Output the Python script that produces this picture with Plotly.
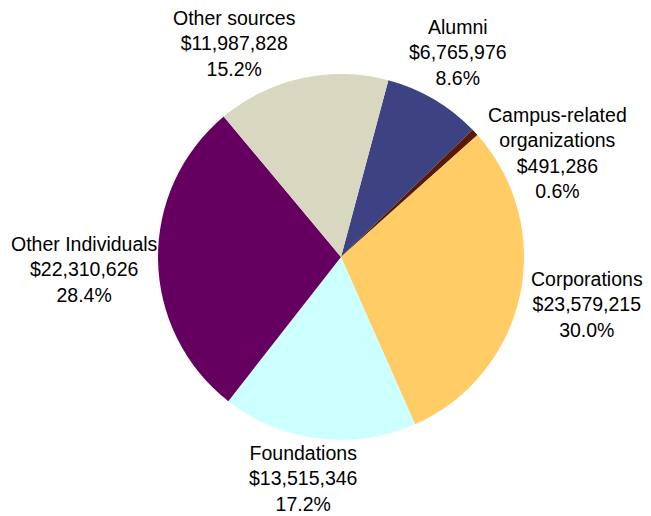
import plotly.graph_objects as go

categories = ["Alumni", "Campus-related organizations", "Corporations",
              "Foundations", "Other Individuals", "Other sources"]
display_labels = ["Alumni", "Campus-related<br>organizations", "Corporations",
                  "Foundations", "Other Individuals", "Other sources"]
amounts = [6765976, 491286, 23579215, 13515346, 22310626, 11987828]
colors = ["#3C4282", "#5A1A05", "#FFCC66", "#CCFFFF", "#660060", "#D8D8C0"]

# label block centres, in pixels from the top-left of the 651x516 canvas
label_pos_px = [(458, 53), (557, 153), (587, 304), (303, 478), (84, 269), (234, 43)]

W, H = 651, 516
CX, CY, R = 341, 257, 183

fig = go.Figure(go.Pie(
    labels=categories,
    values=amounts,
    sort=False,
    direction="clockwise",
    rotation=15,
    marker=dict(colors=colors, line=dict(width=0)),
    textinfo="none",
    showlegend=False,
    hoverinfo="label+value+percent",
    domain=dict(x=[(CX - R) / W, (CX + R) / W],
                y=[(H - CY - R) / H, (H - CY + R) / H]),
))

total = sum(amounts)
for lab, val, (px, py) in zip(display_labels, amounts, label_pos_px):
    fig.add_annotation(
        x=px / W, y=1 - py / H, xref="paper", yref="paper",
        text=f"{lab}<br>${val:,.0f}<br>{val / total:.1%}",
        showarrow=False, xanchor="center", yanchor="middle", align="center",
        font=dict(family="Liberation Sans, Arial, sans-serif", size=19.5, color="black"),
    )

fig.update_layout(
    width=W, height=H,
    margin=dict(l=0, r=0, t=0, b=0),
    paper_bgcolor="white",
    plot_bgcolor="white",
)

fig.write_html("out.html",
               config={"displayModeBar": False},
               post_script="document.body.style.margin='0';document.body.style.overflow='hidden';")
